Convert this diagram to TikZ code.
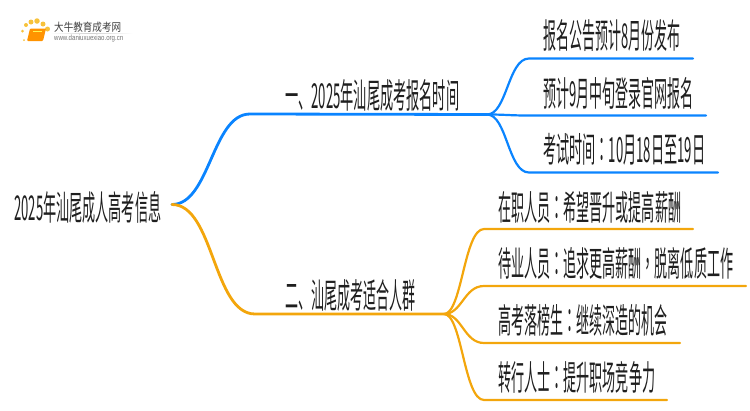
\documentclass[tikz,border=0pt]{standalone}
\usepackage{fontspec}
\usepackage{graphicx}
\setmainfont{Noto Sans CJK SC}
\newfontfamily\tcf{Noto Sans CJK TC}
\newfontfamily\urlf{Liberation Sans}
\definecolor{bl}{HTML}{0A84FF}
\definecolor{og}{HTML}{F3A60C}
\newcommand\T[2]{\resizebox*{#1pt}{32pt}{#2}}
\newcommand\cl{{\tcf ：}}
\newcommand\cm{{\tcf ，}}
\tikzset{
 txt/.style={anchor=west,inner sep=0pt,text=black!88},
 blk/.style={line width=2.8pt,bl,line cap=round},
 ogk/.style={line width=2.8pt,og,line cap=round},
 blt/.style={line width=2.2pt,bl,line cap=round},
 ogt/.style={line width=2.2pt,og,line cap=round},
}
\begin{document}
\begin{tikzpicture}[x=1pt,y=-1pt]
\useasboundingbox (0,0) rectangle (750,410);
% logo
\foreach \a/\b/\s in {24/40/2,22.5/31/3,26/25/4,31/22/5,37/21/5.5,43/24/5,47.5/29/5}
  \fill[og!85!yellow,opacity=.8] (\a,\b) circle ({\s/2});
\fill[orange!85!yellow,rounded corners=1pt] (30,28.5) -- (46,28.5) -- (43,41) -- (27,41) -- cycle;
\draw[yellow!70!white,line width=.8pt] (33,31) -- (42,31);
\shade[left color=white,right color=white,middle color=black!18] (50,33) rectangle (133,33.6);
\node[txt,text=black!75] (logoa) at (54,27) {\resizebox{67pt}{9.5pt}{大牛教育成考网}};
\node[txt,text=black!55] (logob) at (54,38.5) {\resizebox{69pt}{5.5pt}{\urlf www.daniuxuexiao.org.cn}};
% texts
\node[txt] (root) at (14,207) {\T{147}{2025年汕尾成人高考信息}};
\node[txt] (a) at (285,95) {\T{174}{一、2025年汕尾成考报名时间}};
\node[txt] (b) at (285,295) {\T{130}{二、汕尾成考适合人群}};
\node[txt] (a1) at (543,36) {\T{137}{报名公告预计8月份发布}};
\node[txt] (a2) at (543,93) {\T{150}{预计9月中旬登录官网报名}};
\node[txt] (a3) at (543,149) {\T{162}{考试时间\cl 10月18日至19日}};
\node[txt] (b1) at (498,207) {\T{183}{在职人员\cl 希望晋升或提高薪酬}};
\node[txt] (b2) at (498,263) {\T{235}{待业人员\cl 追求更高薪酬\cm 脱离低质工作}};
\node[txt] (b3) at (498,320) {\T{169}{高考落榜生\cl 继续深造的机会}};
\node[txt] (b4) at (498,377) {\T{157}{转行人士\cl 提升职场竞争力}};
% junctions
\coordinate (r) at (172,204.5);
\coordinate (ab) at (250,114);
\coordinate (ae) at (487,114.5);
\coordinate (bb) at (255,314);
\coordinate (be) at (444,314);
\coordinate (a1b) at (529,58.5); \coordinate (a1e) at (693,58.5);
\coordinate (a2b) at (529,115.5); \coordinate (a2e) at (706,115.5);
\coordinate (a3b) at (529,172.5); \coordinate (a3e) at (718,172.5);
\coordinate (b1b) at (484,229); \coordinate (b1e) at (693,229);
\coordinate (b2b) at (484,286); \coordinate (b2e) at (746,286);
\coordinate (b3b) at (484,343); \coordinate (b3e) at (680,343);
\coordinate (b4b) at (484,400); \coordinate (b4e) at (667,400);
% connectors
\draw[blk] (r) .. controls +(38,0) and +(-38,0) .. (ab) -- (ae);
\draw[ogk] (r) .. controls +(42,0) and +(-42,0) .. (bb) -- (be);
\foreach \n in {1,2,3}
  \draw[blt] (ae) .. controls +(20,0) and +(-21,0) .. (a\n b) -- (a\n e);
\foreach \n in {1,2,3,4}
  \draw[ogt] (be) .. controls +(18,0) and +(-20,0) .. (b\n b) -- (b\n e);
\end{tikzpicture}
\end{document}
